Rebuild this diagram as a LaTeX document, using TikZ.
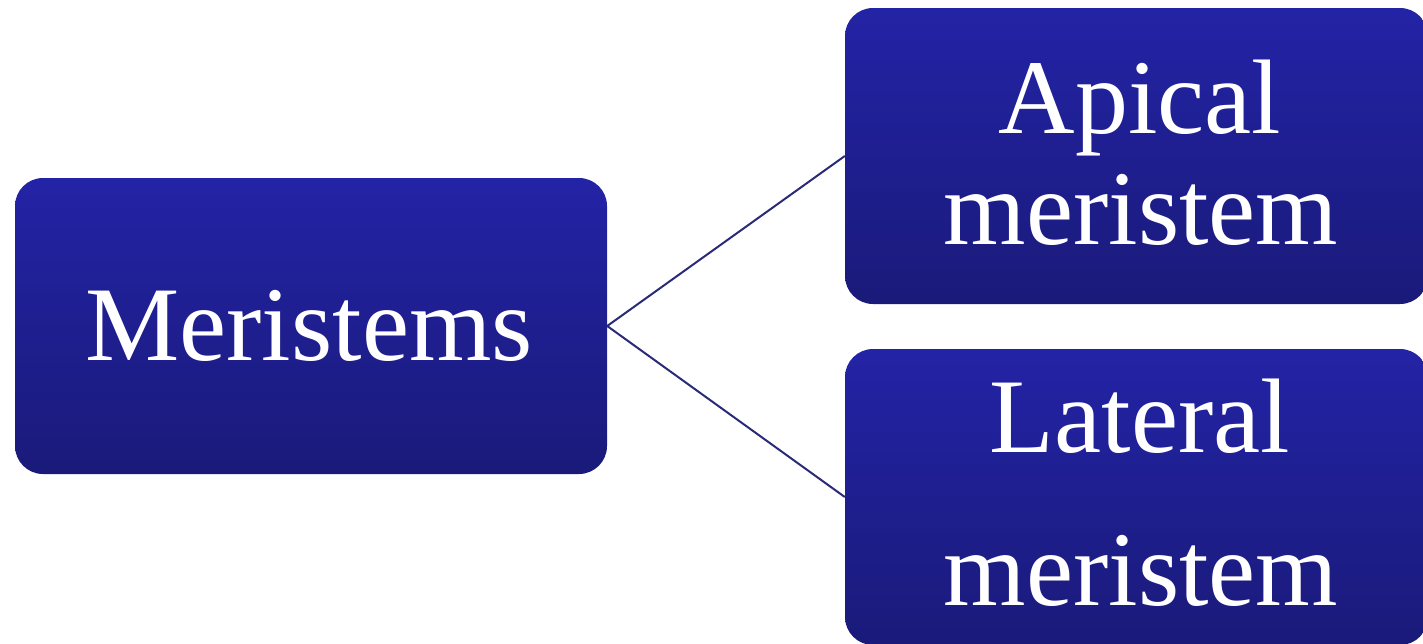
\documentclass[tikz,border=0pt]{standalone}
\usepackage{fontspec}
\setmainfont{Liberation Serif}
\definecolor{boxtop}{RGB}{35,35,166}
\definecolor{boxbot}{RGB}{26,26,122}
\definecolor{linkc}{RGB}{42,42,120}
\begin{document}
\begin{tikzpicture}[x=1pt,y=-1pt,
  box/.style={rectangle, rounded corners=28pt, top color=boxtop, bottom color=boxbot, draw=none, inner sep=0pt, minimum height=296pt},
  lbl/.style={text=white, font=\fontsize{106}{106}\selectfont, anchor=base, inner sep=0pt},
  link/.style={draw=linkc, line width=2pt}]
\useasboundingbox (0,0) rectangle (1423,643);
\node[box, minimum width=592pt] (mer) at (311,326) {};
\node[box, minimum width=583pt] (api) at (1136.5,156) {};
\node[box, minimum width=583pt] (lat) at (1136.5,497) {};
\draw[link] (mer.east) -- (api.west);
\draw[link] (mer.east) -- (lat.west);
\node[lbl] (tmer) at (309,360) {Meristems};
\node[lbl] (tapi1) at (1140,133) {Apical};
\node[lbl] (tapi2) at (1141,244) {meristem};
\node[lbl] (tlat1) at (1140,452) {Lateral};
\node[lbl] (tlat2) at (1141,605) {meristem};
\end{tikzpicture}
\end{document}
